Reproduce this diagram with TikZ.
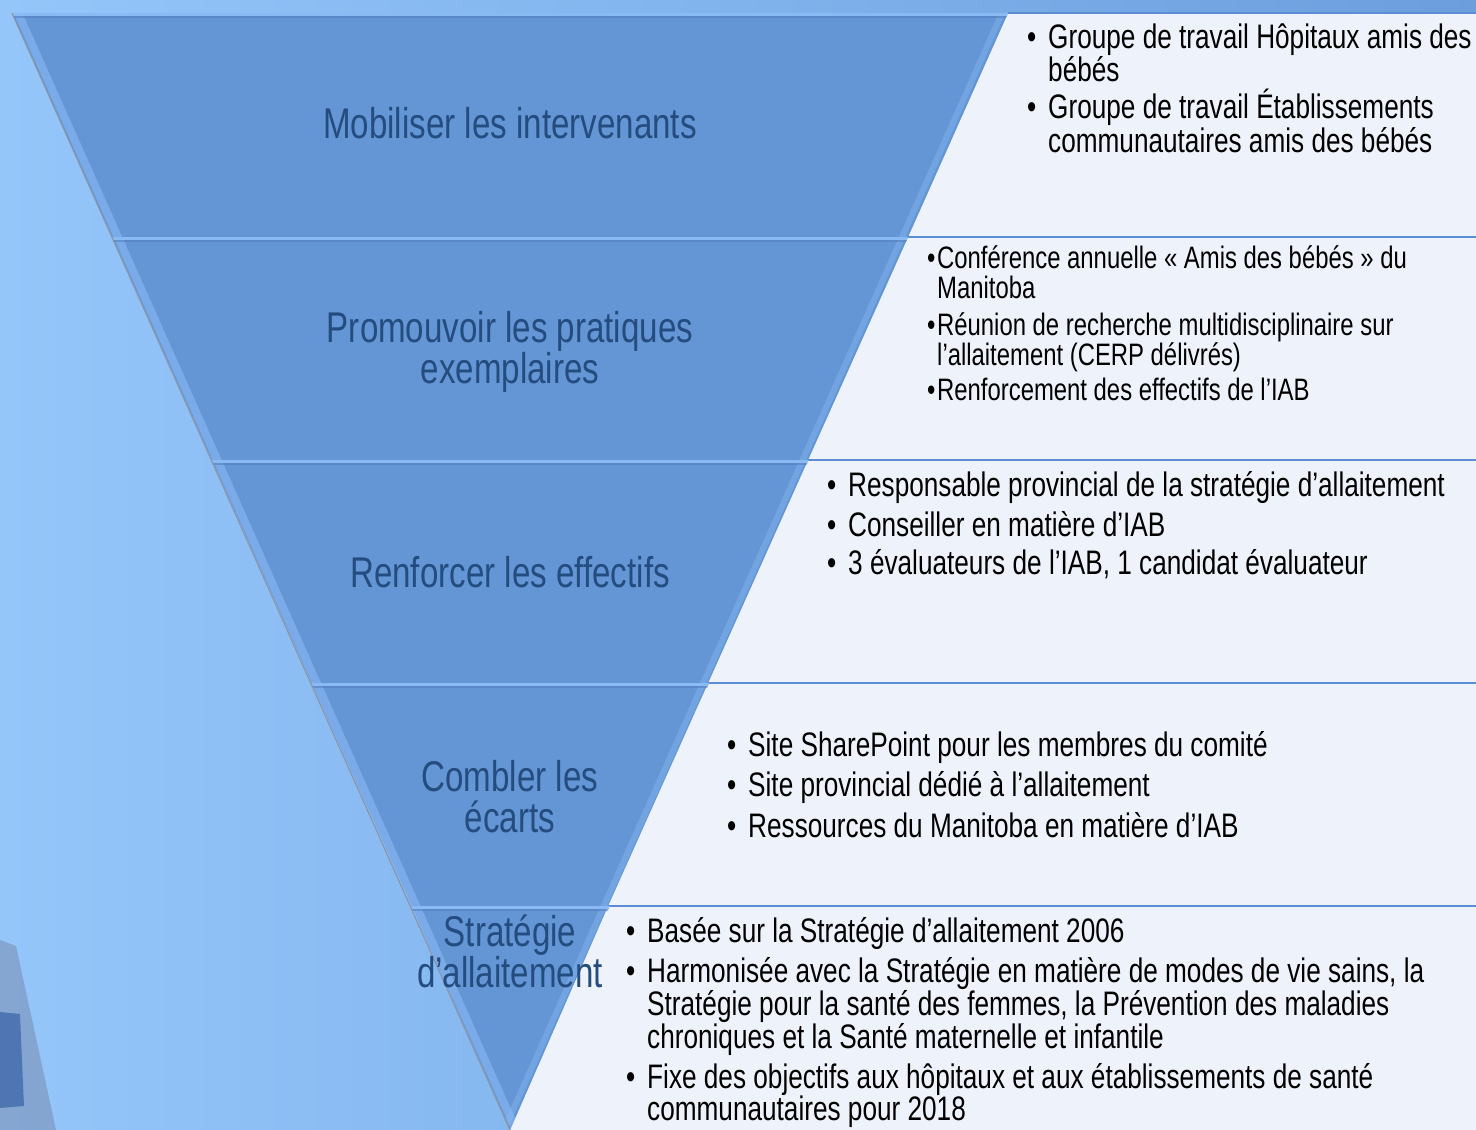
\documentclass[tikz,border=0pt]{standalone}
\usepackage{fontspec}
\setmainfont{Liberation Sans}[FakeStretch=0.77]
\usepackage{tikz}
\usetikzlibrary{positioning}
\definecolor{bgblue}{RGB}{148,198,250}
\definecolor{bgdark}{RGB}{108,158,222}
\definecolor{funnelblue}{RGB}{100,150,214}
\definecolor{funnellight}{RGB}{138,186,244}
\definecolor{funneldark}{RGB}{84,126,190}
\definecolor{funneledge}{RGB}{138,150,168}
\definecolor{labelblue}{RGB}{36,76,126}
\definecolor{panelfill}{RGB}{238,242,250}
\definecolor{panelline}{RGB}{92,140,210}
\definecolor{photogrey}{RGB}{120,140,176}
\definecolor{photoblue}{RGB}{52,92,164}

% bullets with hanging indent
\newcommand\bl{\makebox[21pt][l]{\textbullet}}
\newcommand\ct{\makebox[21pt]{}}
\newcommand\bs{\makebox[10pt][l]{\textbullet}}
\newcommand\cs{\makebox[10pt]{}}

\begin{document}
\begin{tikzpicture}[x=1pt,y=-1pt]
    \tikzstyle{level} = [fill=funnelblue]
    \tikzstyle{panel} = [fill=panelfill]
    \tikzstyle{mylabel} = [text=labelblue,font=\fontsize{43}{41}\selectfont,align=center,anchor=base,inner sep=0pt]
    \tikzstyle{items} = [font=\fontsize{34}{32}\selectfont,align=left,anchor=base west,inner sep=0pt]
    \tikzstyle{smallitems} = [items,font=\fontsize{31}{30}\selectfont]

    \useasboundingbox (0,0) rectangle (1476,1130);
    \shade[left color=bgblue,right color=bgdark] (0,0) rectangle (1476,1130);
    % piece of the background photo
    \fill[photogrey,opacity=.55] (0,940) -- (16,946) -- (30,1010) -- (56,1130) -- (0,1130) -- cycle;
    \fill[photoblue,opacity=.65] (0,1012) -- (20,1014) -- (24,1106) -- (0,1108) -- cycle;

    % funnel corners
    \coordinate (l0) at (12,13);    \coordinate (r0) at (1008,13);
    \coordinate (l1) at (112,237);  \coordinate (r1) at (908,237);
    \coordinate (l2) at (212,460);  \coordinate (r2) at (808,460);
    \coordinate (l3) at (312,683);  \coordinate (r3) at (708,683);
    \coordinate (l4) at (412,906);  \coordinate (r4) at (608,906);
    \coordinate (apex) at (510,1130);

    % panels
    \fill[panel] (r0) -- (1476,13) -- (1476,237) -- (r1) -- cycle;
    \fill[panel] (r1) -- (1476,237) -- (1476,460) -- (r2) -- cycle;
    \fill[panel] (r2) -- (1476,460) -- (1476,683) -- (r3) -- cycle;
    \fill[panel] (r3) -- (1476,683) -- (1476,906) -- (r4) -- cycle;
    \fill[panel] (r4) -- (1476,906) -- (1476,1130) -- (apex) -- cycle;
    \foreach \r/\y in {r0/13,r1/237,r2/460,r3/683,r4/906}
        \draw[panelline,line width=2.5pt] (\r) -- (1476,\y);

    % funnel levels
    \fill[level] (l0) -- (r0) -- (r1) -- (l1) -- cycle;
    \fill[level] (l1) -- (r1) -- (r2) -- (l2) -- cycle;
    \fill[level] (l2) -- (r2) -- (r3) -- (l3) -- cycle;
    \fill[level] (l3) -- (r3) -- (r4) -- (l4) -- cycle;
    \fill[level] (l4) -- (r4) -- (apex) -- cycle;
    \begin{scope}
        \clip (l0) -- (r0) -- (apex) -- cycle;
        \draw[funnellight,line width=8pt,opacity=.6] ([xshift=6pt]l0) -- ([xshift=6pt]apex);
        \draw[funnellight,line width=6pt,opacity=.4] ([xshift=-6pt]r0) -- ([xshift=-6pt]apex);
        \foreach \y in {13,237,460,683,906} {
            \draw[funnellight,line width=3pt] (0,\y+1) -- (1476,\y+1);
            \draw[funneldark,line width=1.2pt,opacity=.6] (0,\y+4) -- (1476,\y+4);
        }
    \end{scope}
    \draw[funneledge,line width=1.2pt] (l0) -- (apex);

    % level labels (anchored on the last line)
    \node[mylabel] (mobiliser) at (510,138) {Mobiliser les intervenants};
    \node[mylabel] (promouvoir) at (510,383) {Promouvoir les pratiques\\exemplaires};
    \node[mylabel] (renforcer) at (510,587) {Renforcer les effectifs};
    \node[mylabel] (combler) at (510,832) {Combler les\\écarts};
    \node[mylabel] (strategie) at (510,987) {Stratégie\\d’allaitement};

    % panel texts (anchored on the last line)
    \node[items] (groupes) at (1027,152) {\bl Groupe de travail Hôpitaux amis des\\
        \ct bébés\\[5pt]
        \bl Groupe de travail Établissements\\
        \ct communautaires amis des bébés};
    \node[smallitems] (conference) at (927,400) {\bs Conférence annuelle « Amis des bébés » du\\
        \cs Manitoba\\[7pt]
        \bs Réunion de recherche multidisciplinaire sur\\
        \cs l’allaitement (CERP délivrés)\\[5pt]
        \bs Renforcement des effectifs de l’IAB};
    \node[items] (effectifs) at (827,574) {\bl Responsable provincial de la stratégie d’allaitement\\[6pt]
        \bl Conseiller en matière d’IAB\\[6pt]
        \bl 3 évaluateurs de l’IAB, 1 candidat évaluateur};
    \node[items] (sites) at (727,837) {\bl Site SharePoint pour les membres du comité\\[7pt]
        \bl Site provincial dédié à l’allaitement\\[7pt]
        \bl Ressources du Manitoba en matière d’IAB};
    \node[items] (basee) at (626,1120) {\bl Basée sur la Stratégie d’allaitement 2006\\[7pt]
        \bl Harmonisée avec la Stratégie en matière de modes de vie sains, la\\
        \ct Stratégie pour la santé des femmes, la Prévention des maladies\\
        \ct chroniques et la Santé maternelle et infantile\\[6pt]
        \bl Fixe des objectifs aux hôpitaux et aux établissements de santé\\
        \ct communautaires pour 2018};
\end{tikzpicture}
\end{document}
